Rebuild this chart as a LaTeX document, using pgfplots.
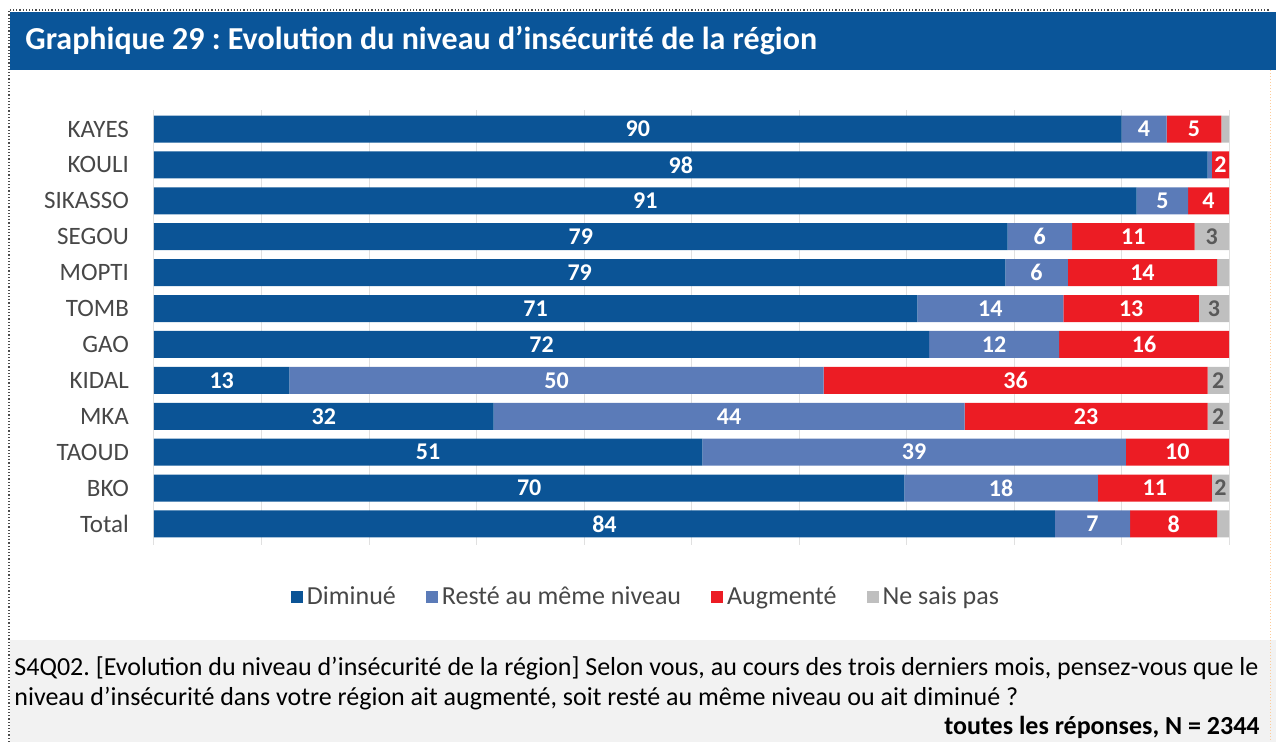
\documentclass[border=0pt]{standalone}
\usepackage{pgfplots}
\pgfplotsset{compat=1.18}
\usepackage{pgfplotstable}
\usepackage{fontspec}
\setmainfont{Carlito}
\frenchspacing
\definecolor{dimc}{HTML}{0B5496}
\definecolor{restc}{HTML}{5B7BB8}
\definecolor{augc}{HTML}{EC1C24}
\definecolor{nspc}{HTML}{BFBFBF}
\definecolor{titleblue}{HTML}{0A5599}
\definecolor{boxgrey}{HTML}{F2F2F2}
\definecolor{labgrey}{HTML}{595959}
\pgfplotstableread{
idx dim reste aug nsp
0  83.8 7.0  8.1  1.1
1  69.8 18.0 10.6 1.6
2  51.0 39.4 9.6  0.0
3  31.6 43.8 22.6 2.0
4  12.6 49.7 35.7 2.0
5  72.1 12.1 15.8 0.0
6  71.0 13.6 12.6 2.8
7  79.2 5.8  13.9 1.1
8  79.4 6.0  11.4 3.2
9  91.4 4.8  3.8  0.0
10 98.0 0.4  1.6  0.0
11 90.0 4.2  5.1  0.7
}\data
\pgfplotsset{
 lab/.style={
  visualization depends on={rawx\as\rawx},
  nodes near coords={\ifdim\rawx pt<1.5pt\else\pgfmathprintnumber[fixed,precision=0]{\rawx}\fi},
  every node near coord/.append style={anchor=center, inner sep=0pt, font=\bfseries\fontsize{12}{12}\selectfont, text=#1},
 }
}
\begin{document}
\begin{tikzpicture}
\useasboundingbox (0,0) rectangle (638pt,-371pt);
\begin{scope}[x=0.5pt,y=-0.5pt]
\fill[titleblue] (10,12) rectangle (1276,70);
\node[anchor=base west, text=white, inner sep=0pt, font=\bfseries\fontsize{16}{16}\selectfont] at (25,50) {Graphique 29 : Evolution du niveau d’insécurité de la région};
\fill[boxgrey] (10,640) rectangle (1276,742);
\draw[densely dotted, black!70, line width=0.6pt] (9,742) -- (9,10) -- (1270,10);
\draw[densely dotted, orange!40, line width=0.5pt] (1270,70) -- (1270,742);
\node[anchor=base west, inner sep=0pt, text=black, font=\fontsize{13}{13}\selectfont] at (14,676) {S4Q02. [Evolution du niveau d’insécurité de la région] Selon vous, au cours des trois derniers mois, pensez-vous que le};
\node[anchor=base west, inner sep=0pt, text=black, font=\fontsize{13}{13}\selectfont] at (14,706) {niveau d'insécurité dans votre région ait augmenté, soit resté au même niveau ou ait diminué ?};
\node[anchor=base east, inner sep=0pt, text=black, font=\bfseries\fontsize{13}{13}\selectfont] at (1260,735) {toutes les réponses, N = 2344};
\end{scope}
\begin{axis}[
 at={(77pt,-272.5pt)}, anchor=south west,
 scale only axis, width=537.5pt, height=217.5pt,
 xbar stacked, bar width=13.5pt,
 xmin=0, xmax=100, ymin=-0.585, ymax=11.53,
 xtick={0,10,...,100}, xticklabels={},
 xmajorgrids, major grid style={draw=black!12, line width=0.5pt},
 axis line style={draw=none}, tick style={draw=none},
 ytick={0,...,11},
 yticklabels={Total,BKO,TAOUD,MKA,KIDAL,GAO,TOMB,MOPTI,SEGOU,SIKASSO,KOULI,KAYES},
 yticklabel style={font=\fontsize{12.5}{12.5}\selectfont, text=black!72, xshift=-9pt},
 /pgf/number format/assume math mode=true,
 legend columns=4,
 legend style={at={(axis description cs:0.4586,-0.1195)}, anchor=center, draw=none, fill=none,
   font=\fontsize{13}{13}\selectfont, text=black!72,
   /tikz/every even column/.append style={column sep=13pt}},
 legend image code/.code={\fill[#1] (-1pt,-3pt) rectangle (5pt,3pt);},
]
\addplot[fill=dimc, draw=none, lab=white] table[x=dim, y=idx] {\data};
\addplot[fill=restc, draw=none, lab=white] table[x=reste, y=idx] {\data};
\addplot[fill=augc, draw=none, lab=white] table[x=aug, y=idx] {\data};
\addplot[fill=nspc, draw=none, lab=labgrey] table[x=nsp, y=idx] {\data};
\legend{Diminué, Resté au même niveau, Augmenté, Ne sais pas}
\end{axis}
\end{tikzpicture}
\end{document}
